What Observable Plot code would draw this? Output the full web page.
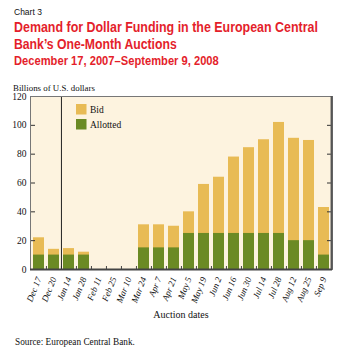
<!DOCTYPE html>
<html><head><meta charset="utf-8">
<script src="https://cdn.jsdelivr.net/npm/d3@7"></script>
<script src="https://cdn.jsdelivr.net/npm/@observablehq/plot@0.6"></script>
<style>
body{margin:0;background:#fff;}
#wrap{position:relative;width:352px;height:353px;overflow:hidden;background:#fff;}
#wrap > svg{position:absolute;left:0;top:0;}
</style></head><body><div id="wrap"></div>
<script>
const dates = ["Dec 17","Dec 20","Jan 14","Jan 28","Feb 11","Feb 25","Mar 10","Mar 24","Apr 7","Apr 21","May 5","May 19","Jun 2","Jun 16","Jun 30","Jul 14","Jul 28","Aug 12","Aug 25","Sep 9"];
const bid =      [22, 14, 14.5, 12, 0, 0, 0, 31, 31, 30, 40, 59, 64, 78, 84.5, 90, 102, 91, 89.5, 43];
const allotted = [10, 10, 10,   10, 0, 0, 0, 15, 15, 15, 25, 25, 25, 25, 25,   25, 25,  20, 20,   10];
const yTicks = [0, 20, 40, 60, 80, 100, 120];
const innerTicks = [20, 40, 60, 80, 100];
const seriesNames = ["Bid", "Allotted"];
const colors = ["#e8bb55", "#6b8a24"];

const data = dates.map((d, i) => ({date: d, bid: bid[i], allotted: allotted[i]}));
const W = 352, H = 353, mL = 30, mR = 20, mT = 96, mB = 84;
const plotW = W - mL - mR, plotH = H - mT - mB;
const step = plotW / dates.length;

const chart = Plot.plot({
  width: W, height: H,
  marginLeft: mL, marginRight: mR, marginTop: mT, marginBottom: mB,
  x: {domain: dates, paddingInner: 0.27, paddingOuter: 0.135, label: null},
  y: {domain: [0, 120], label: null},
  style: {background: "transparent", fontFamily: "Liberation Serif", color: "#111"},
  marks: [
    Plot.frame({fill: "#fdf3df", stroke: null}),
    Plot.barY(data, {x: "date", y: "bid", fill: colors[0]}),
    Plot.barY(data, {x: "date", y: "allotted", fill: colors[1]}),
    Plot.ruleX(dates.slice(1), {dx: -step / 2, insetTop: plotH - 3, stroke: "#444"}),
    Plot.ruleX(["Jan 14"], {dx: -step / 2, stroke: "#222"}),
    Plot.ruleY(innerTicks, {insetRight: plotW - 5, stroke: "#333"}),
    Plot.ruleY(innerTicks, {insetLeft: plotW - 5, stroke: "#333"}),
    Plot.frame({stroke: "#777"}),
    Plot.ruleY([0], {stroke: "#444", strokeWidth: 2}),
    Plot.ruleX([dates[dates.length - 1]], {dx: step / 2, stroke: "#555", strokeWidth: 2}),
    Plot.axisY({ticks: yTicks, tickSize: 0, tickPadding: 4, fontSize: 9.5, label: null}),
    Plot.axisX({tickSize: 0, tickPadding: 8, tickRotate: -68, fontSize: 9, fontStyle: "italic", label: null})
  ]
});
const wrap = document.getElementById("wrap");
wrap.appendChild(chart);

const ns = "http://www.w3.org/2000/svg";
const ov = document.createElementNS(ns, "svg");
ov.setAttribute("width", W); ov.setAttribute("height", H);
wrap.appendChild(ov);
function txt(s, x, y, attrs, fitWidth) {
  const t = document.createElementNS(ns, "text");
  t.textContent = s;
  for (const k in attrs) t.setAttribute(k, attrs[k]);
  ov.appendChild(t);
  if (fitWidth) {
    const len = t.getComputedTextLength();
    const k = len > 0 ? fitWidth / len : 1;
    t.setAttribute("x", 0); t.setAttribute("y", 0);
    t.setAttribute("transform", `translate(${x},${y}) scale(${k},1)`);
  } else {
    t.setAttribute("x", x); t.setAttribute("y", y);
  }
}
function rect(x, y, w, h, fill) {
  const r = document.createElementNS(ns, "rect");
  r.setAttribute("x", x); r.setAttribute("y", y); r.setAttribute("width", w); r.setAttribute("height", h); r.setAttribute("fill", fill);
  ov.appendChild(r);
}
const red = "#e41e2b";
const narrow = {"font-family": "Liberation Sans Narrow, Arial Narrow, Liberation Sans", "font-weight": "bold", fill: red};
txt("Chart 3", 14, 15, {"font-family": "Liberation Sans", "font-size": 8.5, fill: "#111"});
txt("Demand for Dollar Funding in the European Central", 14, 31.7, {...narrow, "font-size": 14}, 304);
txt("Bank\u2019s One-Month Auctions", 14, 48.7, {...narrow, "font-size": 14}, 163);
txt("December 17, 2007\u2013September 9, 2008", 14, 65, {...narrow, "font-size": 12.5}, 205);
const serif = {"font-family": "Liberation Serif", fill: "#111"};
txt("Billions of U.S. dollars", 13, 91, {...serif, "font-size": 9}, 82);
txt("Auction dates", mL + plotW / 2, 318, {...serif, "font-size": 10, "text-anchor": "middle"});
txt("Source: European Central Bank.", 15, 345, {...serif, "font-size": 9.5}, 120);
rect(76, 104, 10.5, 10.5, colors[0]);
txt(seriesNames[0], 90, 113, {...serif, "font-size": 9.5});
rect(76, 119, 10.5, 10.5, colors[1]);
txt(seriesNames[1], 90, 128, {...serif, "font-size": 9.5});
</script>
</body></html>
